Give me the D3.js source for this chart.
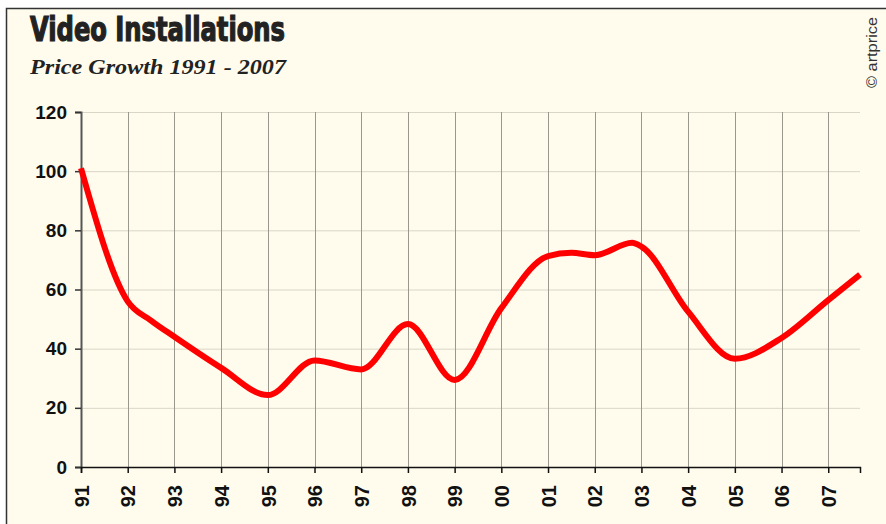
<!DOCTYPE html>
<html>
<head>
<meta charset="utf-8">
<script src="https://cdn.jsdelivr.net/npm/d3@7"></script>
<style>
  body { margin: 0; background: #fff; }
  svg { display: block; }
</style>
</head>
<body>
<div id="chart"></div>
<script>
// data (index, base 100 in 1991)
var years  = [1991, 1992, 1992.5, 1993, 1994, 1995, 1996, 1997, 1998, 1999, 2000, 2001, 2001.5, 2002, 2002.8, 2003, 2004, 2005, 2006, 2007, 2007.68];
var prices = [101, 56, 49.5, 44, 33.5, 24.3, 36, 33, 48.3, 29.4, 53.7, 71.3, 72.4, 71.6, 75.8, 74.5, 52.5, 36.6, 43.6, 56.4, 65];
var tickYears = d3.range(1991, 2008);
var yTicks = [0, 20, 40, 60, 80, 100, 120];

var title = "Video Installations";
var subtitle = "Price Growth 1991 - 2007";
var credit = "\u00a9 artprice";

var width = 886, height = 524;
var margin = {top: 112, right: 26, bottom: 57, left: 81};

var svg = d3.select("#chart")
            .append("svg")
            .attr("width", width)
            .attr("height", height);

// cream panel with dark frame on top and left
svg.append("rect")
    .attr("x", 6).attr("y", 8)
    .attr("width", width - 6).attr("height", height - 8)
    .style("fill", "#fffcee");
svg.append("path")
    .attr("d", "M6.5," + height + "V8.5H" + width)
    .style("fill", "none")
    .style("stroke", "#333")
    .style("stroke-width", 1.5);

var x = d3.scaleLinear()
          .domain([1991, 2007.68])
          .range([margin.left, width - margin.right]);
var y = d3.scaleLinear()
          .domain([0, 120])
          .range([height - margin.bottom, margin.top]);

// grid
svg.append("g")
    .selectAll("line")
    .data(yTicks)
    .enter().append("line")
    .attr("x1", x.range()[0]).attr("x2", x.range()[1])
    .attr("y1", function(d) { return y(d) + 0.5; })
    .attr("y2", function(d) { return y(d) + 0.5; })
    .style("stroke", "#d9d6c6")
    .style("stroke-width", 1);

svg.append("g")
    .selectAll("line")
    .data(tickYears)
    .enter().append("line")
    .attr("x1", function(d) { return Math.round(x(d)) + 0.5; })
    .attr("x2", function(d) { return Math.round(x(d)) + 0.5; })
    .attr("y1", y(120)).attr("y2", y(0))
    .style("stroke", "#9a988c")
    .style("stroke-width", 1);

// axes
var yAxis = svg.append("g")
    .attr("transform", "translate(" + margin.left + ",0)")
    .call(d3.axisLeft(y).tickValues(yTicks).tickSize(6).tickPadding(8));
yAxis.select(".domain").style("stroke", "#555").style("stroke-width", 2);
yAxis.selectAll(".tick line").style("stroke", "#333").style("stroke-width", 1.5);
yAxis.selectAll("text")
    .style("font-family", "'Liberation Sans', Arial, sans-serif")
    .style("font-weight", "bold")
    .style("font-size", "19px")
    .style("fill", "#111");

var xAxis = svg.append("g")
    .attr("transform", "translate(0," + y(0) + ")")
    .call(d3.axisBottom(x).tickValues(tickYears).tickSize(6)
            .tickFormat(function(d) { return String(d).slice(2); }));
xAxis.select(".domain").style("stroke", "#111").style("stroke-width", 1.5);
xAxis.selectAll(".tick line").style("stroke", "#111").style("stroke-width", 1.5);
xAxis.selectAll("text")
    .attr("transform", "rotate(-90)")
    .attr("x", -18).attr("y", 0).attr("dy", "0.36em")
    .style("text-anchor", "end")
    .style("font-family", "'Liberation Sans', Arial, sans-serif")
    .style("font-weight", "bold")
    .style("font-size", "20px")
    .style("fill", "#111");

// price line
var line = d3.line()
    .x(function(d, i) { return x(years[i]); })
    .y(function(d) { return y(d); })
    .curve(d3.curveMonotoneX);

svg.append("path")
    .datum(prices)
    .attr("d", line)
    .style("fill", "none")
    .style("stroke", "#ff0000")
    .style("stroke-width", 6)
    .style("stroke-linejoin", "round");

// titles
svg.append("text")
    .attr("x", 30).attr("y", 41)
    .attr("textLength", 255).attr("lengthAdjust", "spacingAndGlyphs")
    .style("font-family", "'Liberation Sans Narrow', 'DejaVu Sans Condensed', sans-serif")
    .style("font-weight", "bold")
    .style("font-size", "33px")
    .style("fill", "#222")
    .style("stroke", "#222")
    .style("stroke-width", 1.2)
    .text(title);

svg.append("text")
    .attr("x", 30).attr("y", 74)
    .attr("textLength", 256).attr("lengthAdjust", "spacingAndGlyphs")
    .style("font-family", "'Liberation Serif', 'DejaVu Serif', serif")
    .style("font-style", "italic")
    .style("font-weight", "bold")
    .style("font-size", "21px")
    .style("fill", "#222")
    .text(subtitle);

svg.append("text")
    .attr("transform", "translate(877,17) rotate(-90)")
    .attr("textLength", 71).attr("lengthAdjust", "spacingAndGlyphs")
    .style("text-anchor", "end")
    .style("font-family", "'Liberation Sans', Arial, sans-serif")
    .style("font-size", "14px")
    .style("fill", "#333")
    .text(credit);
</script>
</body>
</html>
